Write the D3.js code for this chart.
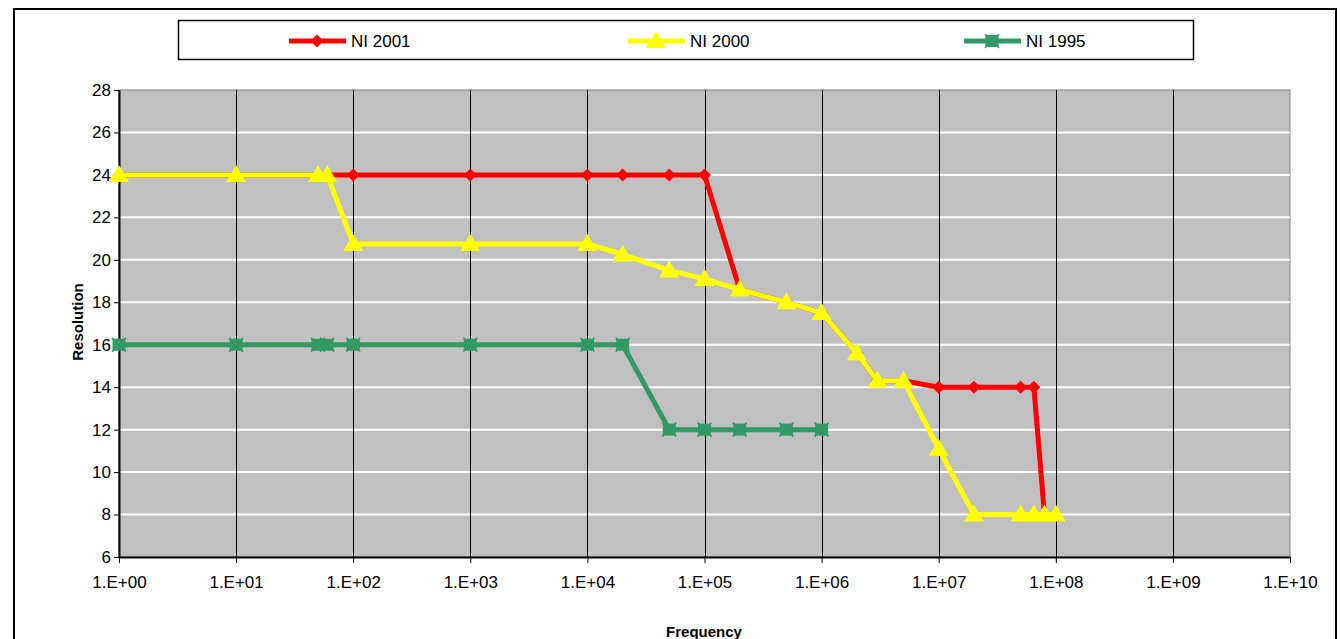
<!DOCTYPE html>
<html><head><meta charset="utf-8">
<script src="https://cdn.jsdelivr.net/npm/d3@7/dist/d3.min.js"></script>
<style>body{margin:0;background:#fff;}svg{display:block;font-family:"Liberation Sans",Arial,sans-serif;}</style>
</head><body>
<svg id="c" width="1340" height="639"></svg>
<script>
const seriesNames = ["NI 2001", "NI 2000", "NI 1995"];
const freqs2001 = [1,10,50,60,100,1e3,1e4,2e4,5e4,1e5,2e5,5e5,1e6,2e6,3e6,5e6,1e7,2e7,5e7,6.5e7,8e7];
const res2001   = [24,24,24,24,24,24,24,24,24,24,18.6,18,17.5,15.6,14.3,14.3,14,14,14,14,8];
const freqs2000 = [1,10,50,60,100,1e3,1e4,2e4,5e4,1e5,2e5,5e5,1e6,2e6,3e6,5e6,1e7,2e7,5e7,6.5e7,8e7,1e8];
const res2000   = [24,24,24,24,20.75,20.75,20.75,20.25,19.5,19.1,18.6,18,17.5,15.6,14.3,14.3,11.1,8,8,8,8,8];
const freqs1995 = [1,10,50,60,100,1e3,1e4,2e4,5e4,1e5,2e5,5e5,1e6];
const res1995   = [16,16,16,16,16,16,16,16,12,12,12,12,12];
const xTicks = [1,1e1,1e2,1e3,1e4,1e5,1e6,1e7,1e8,1e9,1e10];
const yTicks = [6,8,10,12,14,16,18,20,22,24,26,28];
const colors = ["#ff0000","#ffff00","#339966"];
const markers = ["diamond","triangle","square"];

const svg = d3.select("#c");
const x = d3.scaleLog().domain([1,1e10]).range([119,1290]);
const y = d3.scaleLinear().domain([6,28]).range([557,90]);
const FF = "Liberation Sans, Arial, sans-serif";

// outer frame
svg.append("path").attr("d","M14,639 L14,9 L1336,9 L1336,639").attr("fill","none").attr("stroke","#000").attr("stroke-width",2);

// plot area
svg.append("rect").attr("x",x(1)).attr("y",y(28)).attr("width",x(1e10)-x(1)).attr("height",y(6)-y(28))
  .attr("fill","#c0c0c0").attr("stroke","#808080").attr("stroke-width",1);

// horizontal gridlines
svg.append("g").selectAll("line").data(yTicks.filter(d=>d>6&&d<28)).join("line")
  .attr("x1",x(1)).attr("x2",x(1e10)).attr("y1",d=>y(d)).attr("y2",d=>y(d))
  .attr("stroke","#fff").attr("stroke-width",2);
// vertical gridlines
svg.append("g").selectAll("line").data(xTicks.filter(d=>d>1&&d<1e10)).join("line")
  .attr("x1",d=>Math.round(x(d))+0.5).attr("x2",d=>Math.round(x(d))+0.5).attr("y1",y(28)).attr("y2",y(6))
  .attr("stroke","#000").attr("stroke-width",1);

// axes
const fmt = d => "1.E+" + String(Math.round(Math.log10(d))).padStart(2,"0");
const xAxis = svg.append("g").attr("transform",`translate(0,${y(6)})`)
  .call(d3.axisBottom(x).tickValues(xTicks).tickFormat(fmt).tickSize(6).tickSizeOuter(0));
xAxis.attr("font-size",17).attr("font-family",FF);
xAxis.select(".domain").attr("stroke","#000").attr("stroke-width",2);
xAxis.selectAll("text").style("font-size","17px").attr("y",19).attr("dy","0.71em").attr("fill","#000");
const yAxis = svg.append("g").attr("transform",`translate(${x(1)},0)`)
  .call(d3.axisLeft(y).tickValues(yTicks).tickSize(5).tickSizeOuter(0));
yAxis.attr("font-size",17).attr("font-family",FF);
yAxis.select(".domain").attr("stroke","#000").attr("stroke-width",2);
yAxis.selectAll("text").style("font-size","17px").attr("x",-8).attr("fill","#000");

// axis titles
svg.append("text").attr("x",704).attr("y",637).attr("text-anchor","middle").style("font-size","15px").attr("font-weight","bold").text("Frequency");
svg.append("text").attr("transform","translate(83,322) rotate(-90)").attr("text-anchor","middle").style("font-size","15px").attr("font-weight","bold").text("Resolution");

function drawMarker(g, type, cx, cy, color){
  if(type==="diamond"){
    g.append("path").attr("d",`M${cx},${cy-6.5}L${cx+6.5},${cy}L${cx},${cy+6.5}L${cx-6.5},${cy}Z`).attr("fill",color);
  } else if(type==="triangle"){
    g.append("path").attr("d",`M${cx},${cy-10}L${cx+10},${cy+7}L${cx-10},${cy+7}Z`).attr("fill",color);
  } else {
    g.append("rect").attr("x",cx-6.5).attr("y",cy-6).attr("width",13).attr("height",12).attr("fill",color);
    g.append("path").attr("d",`M${cx-7},${cy-7}L${cx+7},${cy+7}M${cx+7},${cy-7}L${cx-7},${cy+7}`).attr("stroke",color).attr("stroke-width",1.5);
  }
}

const allSeries = [
  {f:freqs2001, r:res2001},
  {f:freqs2000, r:res2000},
  {f:freqs1995, r:res1995}
];
const line = d3.line().x(d=>x(d[0])).y(d=>y(d[1]));
allSeries.forEach((s,i)=>{
  const pts = s.f.map((f,j)=>[f,s.r[j]]);
  const g = svg.append("g");
  g.append("path").attr("d",line(pts)).attr("fill","none").attr("stroke",colors[i]).attr("stroke-width",5).attr("stroke-linejoin","round");
  pts.forEach(p=>drawMarker(g, markers[i], x(p[0]), y(p[1]), colors[i]));
});

// legend
svg.append("rect").attr("x",178.5).attr("y",20.5).attr("width",1015).attr("height",39).attr("fill","#fff").attr("stroke","#000").attr("stroke-width",1.5);
const legX = [289, 628, 964];
seriesNames.forEach((n,i)=>{
  const g = svg.append("g");
  g.append("line").attr("x1",legX[i]).attr("x2",legX[i]+57).attr("y1",41).attr("y2",41).attr("stroke",colors[i]).attr("stroke-width",5);
  drawMarker(g, markers[i], legX[i]+28, 41, colors[i]);
  g.append("text").attr("x",legX[i]+62).attr("y",47).style("font-size","17px").text(n);
});
</script>
</body></html>
